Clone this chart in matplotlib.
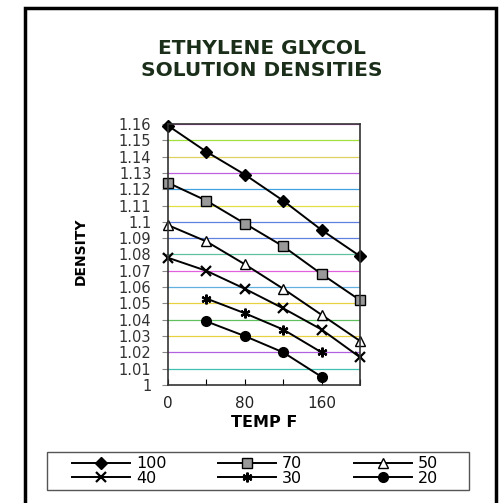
import matplotlib
matplotlib.use("Agg")
import matplotlib.pyplot as plt
from matplotlib.patches import Rectangle

plt.rcParams['font.family'] = ['DejaVu Sans']

temps = [0, 40, 80, 120, 160, 200]
d100 = [1.159, 1.143, 1.129, 1.113, 1.095, 1.079]
d70 = [1.124, 1.113, 1.099, 1.085, 1.068, 1.052]
d50 = [1.098, 1.088, 1.074, 1.059, 1.043, 1.027]
d40 = [1.078, 1.070, 1.059, 1.047, 1.034, 1.017]
temps_low = [40, 80, 120, 160]
d30 = [1.053, 1.044, 1.034, 1.020]
d20 = [1.039, 1.030, 1.020, 1.005]

yticks = [1.0, 1.01, 1.02, 1.03, 1.04, 1.05, 1.06, 1.07, 1.08, 1.09, 1.1,
          1.11, 1.12, 1.13, 1.14, 1.15, 1.16]
ytick_labels = ['1', '1.01', '1.02', '1.03', '1.04', '1.05', '1.06', '1.07', '1.08',
                '1.09', '1.1', '1.11', '1.12', '1.13', '1.14', '1.15', '1.16']
xticks = [0, 40, 80, 120, 160, 200]
xtick_labels = ['0', '', '80', '', '160', '']

grid_colors = ['#e8e060', '#40c0b0', '#b060e0', '#e8d040', '#60c060', '#e8d040',
               '#60b0e0', '#e060e0', '#60c0a0', '#6080e0', '#6080e0', '#e0e040',
               '#40a0e0', '#c060e0', '#e0d060', '#a0e040', '#e060e0']

W, H = 500, 503
fig = plt.figure(figsize=(W / 100, H / 100), dpi=100)
fig.patch.set_facecolor('white')

# outer frame
fig.patches.append(Rectangle((25 / W, -0.05), (496 - 25) / W, 1.05 - 8 / H,
                             transform=fig.transFigure, fill=False,
                             edgecolor='black', linewidth=2.5))

ax = fig.add_axes([168 / W, 1 - 385 / H, (360 - 168) / W, (385 - 124) / H])
for yv, c in zip(yticks[1:], grid_colors[1:]):
    ax.axhline(yv, color=c, linewidth=0.9, zorder=0)

mk = dict(color='black', linewidth=1.4, markersize=7, markeredgecolor='black', clip_on=False)
ax.plot(temps, d100, marker='D', markerfacecolor='black', label='100', markersize=6.5,
        color='black', linewidth=1.4, clip_on=False)
ax.plot(temps, d70, marker='s', markerfacecolor='#999999', label='70', **mk)
ax.plot(temps, d50, marker='^', markerfacecolor='white', label='50', **mk)
ax.plot(temps, d40, marker='x', markeredgewidth=1.6, label='40', **mk)
ax.plot(temps_low, d30, marker=(6, 2, 0), markeredgewidth=1.6, label='30', **mk)
ax.plot(temps_low, d20, marker='o', markerfacecolor='black', label='20', **mk)

ax.set_xlim(0, 200)
ax.set_ylim(1.0, 1.16)
ax.set_yticks(yticks)
ax.set_yticklabels(ytick_labels, fontsize=10.5, color='#333333')
ax.set_xticks(xticks)
ax.set_xticklabels(xtick_labels, fontsize=11, color='#222222')
ax.tick_params(axis='y', length=4, direction='out', pad=8, color='#888888')
ax.tick_params(axis='x', length=4, direction='in', pad=8)
for s in ax.spines.values():
    s.set_linewidth(1.2)
    s.set_color('#333333')

ax.set_xlabel('TEMP F', fontsize=11.5, fontweight='bold', labelpad=3)
fig.text(81 / W, 1 - 251 / H, 'DENSITY', rotation=90, ha='center', va='center',
         fontsize=10, fontweight='bold')
fig.text(262 / W, 1 - 60 / H, 'ETHYLENE GLYCOL\nSOLUTION DENSITIES', ha='center',
         va='center', fontsize=14.5, fontweight='bold', color='#1a2e1a', linespacing=1.2)

# legend box
fig.patches.append(Rectangle((47 / W, 1 - 490 / H), (469 - 47) / W, (490 - 452) / H,
                             transform=fig.transFigure, fill=False,
                             edgecolor='#555555', linewidth=1.0))

handles, labels = ax.get_legend_handles_labels()
order = [0, 3, 1, 4, 2, 5]
leg = fig.legend([handles[i] for i in order], [labels[i] for i in order],
                 ncol=3, loc='center left', bbox_to_anchor=(72 / W, 1 - 471 / H),
                 fontsize=11.5, frameon=False,
                 handlelength=3.6, columnspacing=3.25, labelspacing=-0.05,
                 borderpad=0.0, handletextpad=0.4, borderaxespad=0)

fig.savefig('out.png', dpi=100, facecolor='white')
